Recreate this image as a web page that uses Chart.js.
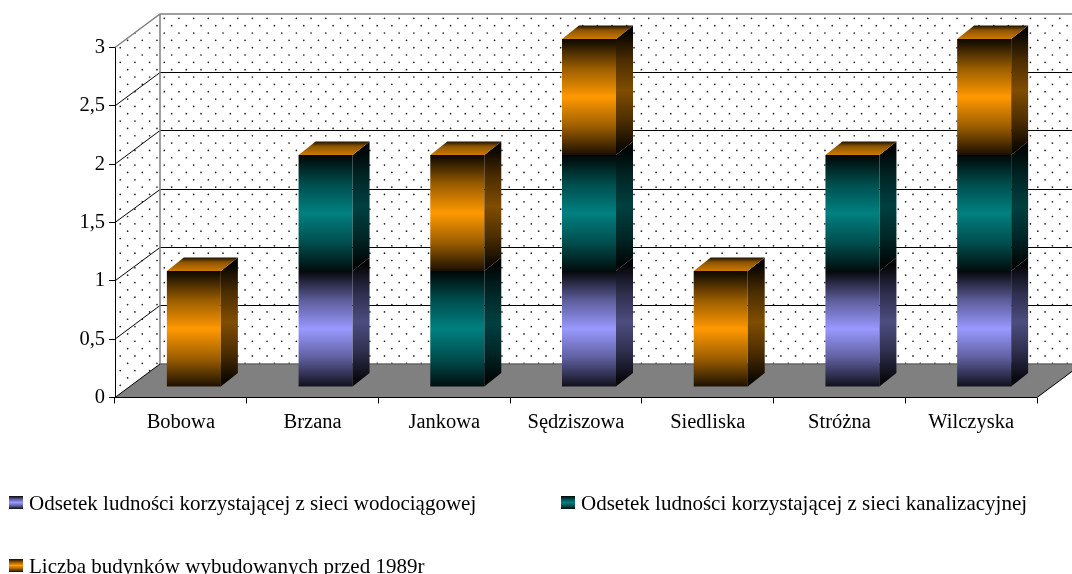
<!DOCTYPE html>
<html>
<head>
<meta charset="utf-8">
<style>
  html, body { margin: 0; padding: 0; background: #fff; overflow: hidden; }
  canvas { display: block; }
</style>
<script src="https://cdn.jsdelivr.net/npm/chart.js@4"></script>
</head>
<body>
<canvas id="chart" width="1072" height="574"></canvas>
<script>
const categories = ["Bobowa", "Brzana", "Jankowa", "Sędziszowa", "Siedliska", "Stróżna", "Wilczyska"];
const seriesNames = [
  "Odsetek ludności korzystającej z sieci wodociągowej",
  "Odsetek ludności korzystającej z sieci kanalizacyjnej",
  "Liczba budynków wybudowanych przed 1989r"
];
const water = [0, 1, 0, 1, 0, 1, 1];
const sewer = [0, 1, 1, 1, 0, 1, 1];
const buildings = [1, 0, 1, 1, 1, 0, 1];

const FONT = '"Liberation Serif", serif';
const FONT_SIZE = 20.5;
const LEGEND_SIZE = 21;
const LEFT = 115, RIGHT = 1037, TOP = 47.5, BOTTOM = 397.5;
// depth of the box and of the bars
const WALL_X = 45, WALL_Y = 33.5;
const BAR_X = 17, BAR_Y = 13.5;
const baseColors = [[153, 153, 255], [0, 128, 128], [255, 153, 0]];
const legendPos = [[8, 503], [560, 503], [8, 566]];

function shade(rgb, k) {
  return "rgb(" + rgb.map(c => Math.round(c * k)).join(",") + ")";
}

// dark - bright - dark bands, like the old office fill
function bandGradient(ctx, y0, y1, rgb, k) {
  const g = ctx.createLinearGradient(0, y0, 0, y1);
  g.addColorStop(0, shade(rgb, 0.04 * k));
  g.addColorStop(0.25, shade(rgb, 0.6 * k));
  g.addColorStop(0.5, shade(rgb, k));
  g.addColorStop(0.75, shade(rgb, 0.62 * k));
  g.addColorStop(1, shade(rgb, 0.1 * k));
  return g;
}

function stackBase(dsIndex, i, chart) {
  let sum = 0;
  for (let d = 0; d < dsIndex; d++) sum += chart.data.datasets[d].data[i];
  return sum;
}

function frontFill(context) {
  if (context.type !== "data") return "#000";
  const chart = context.chart;
  const y = chart.scales.y;
  const from = stackBase(context.datasetIndex, context.dataIndex, chart);
  const to = from + chart.data.datasets[context.datasetIndex].data[context.dataIndex];
  const y0 = y.getPixelForValue(to), y1 = y.getPixelForValue(from);
  // scales are not laid out yet on the first pass
  if (!isFinite(y0) || !isFinite(y1)) return "#000";
  return bandGradient(chart.ctx, y0, y1, baseColors[context.datasetIndex], 1);
}

function poly(ctx, pts) {
  ctx.beginPath();
  pts.forEach((p, i) => i ? ctx.lineTo(p[0], p[1]) : ctx.moveTo(p[0], p[1]));
  ctx.closePath();
}

const box3d = {
  id: "box3d",
  beforeDatasetsDraw(chart) {
    const ctx = chart.ctx;
    const xs = chart.scales.x, ys = chart.scales.y;
    const l = xs.left, r = xs.right;
    const t = ys.top, b = ys.bottom;

    // dotted walls
    ctx.save();
    poly(ctx, [[l, b], [l, t], [l + WALL_X, t - WALL_Y], [r + WALL_X, t - WALL_Y], [r + WALL_X, b - WALL_Y]]);
    ctx.clip();
    ctx.fillStyle = "#fff";
    ctx.fillRect(0, 0, chart.width, chart.height);
    ctx.fillStyle = "#222";
    const stepX = 14.68, stepY = 7.34;
    for (let row = 0; row < 60; row++) {
      const py = 18.3 - stepY + row * stepY;
      const off = row % 2 ? 0 : stepX / 2;
      for (let c = -4; c < 70; c++) {
        ctx.beginPath();
        ctx.arc(164.3 - off + c * stepX, py, 0.85, 0, Math.PI * 2);
        ctx.fill();
      }
    }
    ctx.restore();

    // grid lines on both walls
    ctx.strokeStyle = "#000";
    ctx.lineWidth = 1;
    ys.ticks.forEach(tk => {
      if (tk.value === 0 || tk.value === 3) return;
      const py = ys.getPixelForValue(tk.value);
      const back = Math.floor(py - WALL_Y) + 0.5;
      ctx.beginPath();
      ctx.moveTo(l, py);
      ctx.lineTo(l + WALL_X, back);
      ctx.lineTo(r + WALL_X, back);
      ctx.stroke();
    });

    // floor
    ctx.fillStyle = "#808080";
    poly(ctx, [[l, b], [l + WALL_X, b - WALL_Y], [r + WALL_X, b - WALL_Y], [r, b]]);
    ctx.fill();

    // wall edges
    ctx.strokeStyle = "#808080";
    ctx.lineWidth = 1.5;
    ctx.beginPath();
    ctx.moveTo(l, t);
    ctx.lineTo(l + WALL_X, t - WALL_Y);
    ctx.lineTo(r + WALL_X, t - WALL_Y);
    ctx.moveTo(l + WALL_X, t - WALL_Y);
    ctx.lineTo(l + WALL_X, b - WALL_Y);
    ctx.stroke();
    ctx.strokeStyle = "#666";
    ctx.beginPath();
    ctx.moveTo(l + WALL_X, b - WALL_Y);
    ctx.lineTo(r + WALL_X, b - WALL_Y);
    ctx.stroke();

    // front edges, axis lines stay on top of the floor
    ctx.strokeStyle = "#000";
    ctx.lineWidth = 1;
    ctx.beginPath();
    ctx.moveTo(l, b);
    ctx.lineTo(l + WALL_X, b - WALL_Y);
    ctx.moveTo(r, b);
    ctx.lineTo(r + WALL_X, b - WALL_Y);
    ctx.moveTo(l + 0.5, t);
    ctx.lineTo(l + 0.5, b);
    ctx.moveTo(l, b);
    ctx.lineTo(r, b);
    ctx.stroke();

    // bars stand a bit inside the box
    ctx.save();
    const k = 116 / 116.67;
    ctx.transform(1, 0, 0, k, 13, (b - 10.5) - b * k);
  },
  afterDatasetsDraw(chart) {
    const ctx = chart.ctx;
    const last = chart.data.datasets.length - 1;
    chart.data.datasets.forEach((ds, d) => {
      chart.getDatasetMeta(d).data.forEach((bar, i) => {
        const x1 = bar.x + bar.width / 2;
        const x0 = bar.x - bar.width / 2;
        const top = bar.y, base = bar.base;
        // side face
        if (ds.data[i]) {
          ctx.fillStyle = bandGradient(ctx, top - BAR_Y / 2, base - BAR_Y / 2, baseColors[d], 0.5);
          poly(ctx, [[x1, top], [x1 + BAR_X, top - BAR_Y], [x1 + BAR_X, base - BAR_Y], [x1, base]]);
          ctx.fill();
        }
        // the last series closes the stack, also when its value is 0
        if (d === last) {
          const g = ctx.createLinearGradient(0, top - BAR_Y, 0, top);
          g.addColorStop(0, shade(baseColors[d], 0.12));
          g.addColorStop(0.35, shade(baseColors[d], 0.55));
          g.addColorStop(1, shade(baseColors[d], 0.8));
          ctx.fillStyle = g;
          poly(ctx, [[x0, top], [x0 + BAR_X, top - BAR_Y], [x1 + BAR_X, top - BAR_Y], [x1, top]]);
          ctx.fill();
        }
      });
    });
    ctx.restore();
  },
  afterDraw(chart) {
    // legend is laid out by hand, two columns
    const ctx = chart.ctx;
    ctx.save();
    ctx.font = LEGEND_SIZE + "px " + FONT;
    ctx.textBaseline = "middle";
    chart.data.datasets.forEach((ds, d) => {
      const [lx, ly] = legendPos[d];
      ctx.fillStyle = bandGradient(ctx, ly - 7, ly + 6, baseColors[d], 1);
      ctx.fillRect(lx + 1, ly - 7, 14, 13);
      ctx.fillStyle = "#000";
      ctx.fillText(ds.label, lx + 21, ly + 1);
    });
    ctx.restore();
  }
};

new Chart(document.getElementById("chart"), {
  type: "bar",
  data: {
    labels: categories,
    datasets: [water, sewer, buildings].map((vals, d) => ({
      label: seriesNames[d],
      data: vals,
      backgroundColor: frontFill,
      borderWidth: 0,
      categoryPercentage: 1,
      barPercentage: 0.41,
      clip: false
    }))
  },
  options: {
    responsive: false,
    animation: false,
    events: [],
    layout: { padding: { left: 0, right: 1072 - RIGHT, top: TOP, bottom: 0 } },
    plugins: {
      legend: { display: false },
      tooltip: { enabled: false },
      title: { display: false }
    },
    scales: {
      x: {
        stacked: true,
        afterFit(s) { s.height = 574 - BOTTOM; s.paddingLeft = 0; s.paddingRight = 0; },
        border: { display: false },
        grid: { drawOnChartArea: false, color: "#000", tickLength: 6, offset: true },
        ticks: { color: "#000", font: { family: FONT, size: FONT_SIZE }, padding: 7, maxRotation: 0 }
      },
      y: {
        stacked: true,
        min: 0,
        max: 3,
        afterFit(s) { s.width = LEFT; s.paddingTop = 0; s.paddingBottom = 0; },
        border: { display: false },
        grid: { drawOnChartArea: false, color: "#000", tickLength: 6 },
        ticks: {
          stepSize: 0.5,
          color: "#000",
          font: { family: FONT, size: FONT_SIZE },
          padding: 4,
          callback: v => String(v).replace(".", ",")
        }
      }
    }
  },
  plugins: [box3d]
});
</script>
</body>
</html>
